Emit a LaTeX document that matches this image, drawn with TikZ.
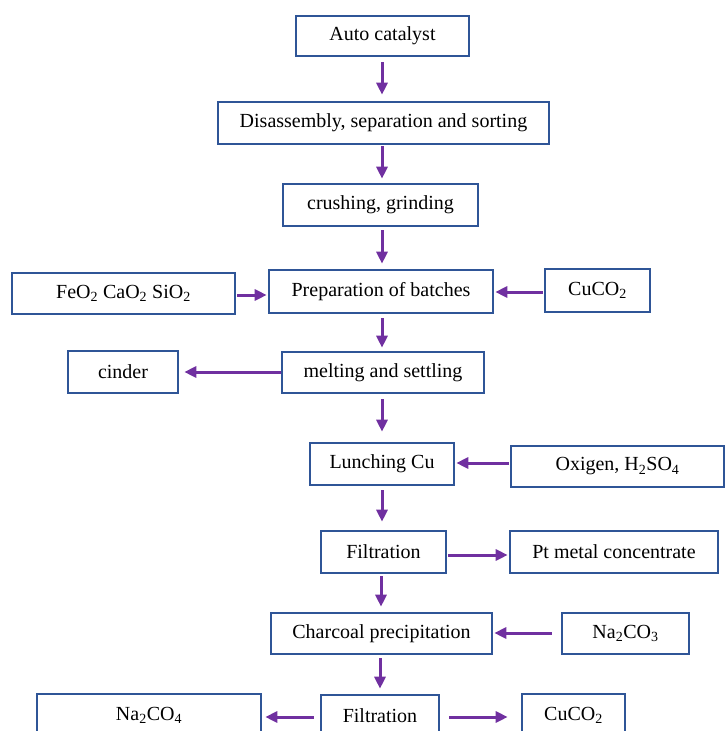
\documentclass[tikz,border=0pt]{standalone}
\usepackage{fontspec}
\setmainfont{Liberation Serif}
\usepackage{tikz}
\usetikzlibrary{positioning,arrows.meta}
\definecolor{boxblue}{HTML}{2F5597}
\definecolor{flowpurple}{HTML}{7030A0}
\tikzset{every picture/.style={line width=0.75pt}}
\tikzset{
  stage/.style={draw=boxblue, line width=2.6pt, fill=white, inner sep=0pt,
    font=\fontsize{20}{24}\selectfont},
  flow/.style={draw=flowpurple, line width=3pt,
    -{Triangle[length=12pt,width=11pt]}, shorten <=1pt, shorten >=1pt}
}

\begin{document}
\begin{tikzpicture}[x=1pt,y=-1pt]
\useasboundingbox (0,0) rectangle (726,731);
\node[stage, minimum width=173pt, minimum height=40pt] at (382.5,36) (auto) {Auto catalyst};
\node[stage, minimum width=331pt, minimum height=42pt] at (383.5,123) (dis) {Disassembly, separation and sorting};
\node[stage, minimum width=195pt, minimum height=42pt] at (380.5,205) (crush) {crushing, grinding};
\node[stage, minimum width=224pt, minimum height=43pt] at (381,291.5) (prep) {Preparation of batches};
\node[stage, minimum width=223pt, minimum height=41pt] at (123.5,293.5) (feo) {FeO\textsubscript{2} CaO\textsubscript{2} SiO\textsubscript{2}};
\node[stage, minimum width=105pt, minimum height=43pt] at (597.5,290.5) (cuco) {CuCO\textsubscript{2}};
\node[stage, minimum width=202pt, minimum height=41pt] at (383,372.5) (melt) {melting and settling};
\node[stage, minimum width=110pt, minimum height=42pt] at (123,372) (cinder) {cinder};
\node[stage, minimum width=144pt, minimum height=42pt] at (382,464) (lunch) {Lunching Cu};
\node[stage, minimum width=213pt, minimum height=41pt] at (617.5,466.5) (oxi) {Oxigen, H\textsubscript{2}SO\textsubscript{4}};
\node[stage, minimum width=125pt, minimum height=42pt] at (383.5,552) (filt) {Filtration};
\node[stage, minimum width=208pt, minimum height=42pt] at (614,552) (pt) {Pt metal concentrate};
\node[stage, minimum width=221pt, minimum height=41pt] at (381.5,633.5) (char) {Charcoal precipitation};
\node[stage, minimum width=127pt, minimum height=41pt] at (625.5,633.5) (naco) {Na\textsubscript{2}CO\textsubscript{3}};
\node[stage, minimum width=118pt, minimum height=42pt] at (380,716) (filtb) {Filtration};
\node[stage, minimum width=224pt, minimum height=42pt] at (149,715) (nacof) {Na\textsubscript{2}CO\textsubscript{4}};
\node[stage, minimum width=103pt, minimum height=42pt] at (573.5,715) (cucob) {CuCO\textsubscript{2}};

% main line
\draw[flow, shorten <=5pt, shorten >=6pt] (auto.south -| 382,0) -- (dis.north -| 382,0);
\draw[flow, shorten <=1pt, shorten >=4pt] (dis.south -| 382,0) -- (crush.north -| 382,0);
\draw[flow, shorten <=3pt, shorten >=5pt] (crush.south -| 382,0) -- (prep.north -| 382,0);
\draw[flow, shorten <=4pt, shorten >=3pt] (prep.south -| 382,0) -- (melt.north -| 382,0);
\draw[flow, shorten <=5pt, shorten >=10pt] (melt.south -| 382,0) -- (lunch.north -| 382,0);
\draw[flow, shorten <=4pt, shorten >=8pt] (lunch.south -| 382,0) -- (filt.north -| 382,0);
\draw[flow, shorten <=2pt, shorten >=5pt] (filt.south -| 381,0) -- (char.north -| 381,0);
\draw[flow, shorten <=3pt, shorten >=5pt] (char.south -| 380,0) -- (filtb.north -| 380,0);

% side inputs and outputs
\draw[flow] (feo.east |- 0,295) -- (prep.west |- 0,295);
\draw[flow] (cuco.west |- 0,292) -- (prep.east |- 0,292);
\draw[flow, shorten <=0pt, shorten >=5pt] (melt.west |- 0,372) -- (cinder.east |- 0,372);
\draw[flow] (oxi.west |- 0,463) -- (lunch.east |- 0,463);
\draw[flow] (filt.east |- 0,555) -- (pt.west |- 0,555);
\draw[flow, shorten <=9pt] (naco.west |- 0,633) -- (char.east |- 0,633);
\draw[flow, shorten <=6pt, shorten >=3pt] (filtb.west |- 0,717) -- (nacof.east |- 0,717);
\draw[flow, shorten <=9pt, shorten >=13pt] (filtb.east |- 0,717) -- (cucob.west |- 0,717);
\end{tikzpicture}
\end{document}
